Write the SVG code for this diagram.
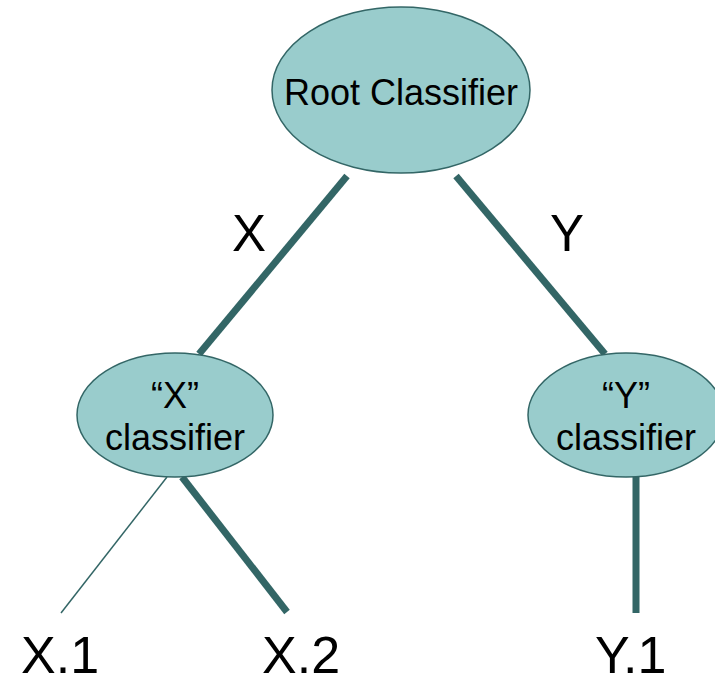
<svg xmlns="http://www.w3.org/2000/svg" width="715" height="677" viewBox="0 0 715 677">
  <style>
    .node { fill: #99cccc; stroke: #336666; stroke-width: 1.5; }
    .lbl { font-family: "Liberation Sans", Arial, sans-serif; fill: #000; }
    .in { font-size: 36px; text-anchor: middle; }
    .edge { font-size: 51px; }
    .leaf { font-size: 52px; }
    .thick { stroke: #336666; stroke-width: 7; fill: none; }
    .thin { stroke: #336666; stroke-width: 1.5; fill: none; }
  </style>
  <rect width="715" height="677" fill="#ffffff"/>

  <!-- tree branches -->
  <g id="connectors">
    <line class="thick" x1="347" y1="176" x2="199" y2="354"/>
    <line class="thick" x1="456" y1="176" x2="605" y2="354"/>
    <line class="thin" x1="167" y1="477" x2="61" y2="613"/>
    <line class="thick" x1="182" y1="477" x2="287" y2="612"/>
    <line class="thick" x1="636" y1="477" x2="636" y2="613"/>
  </g>

  <g id="root">
    <ellipse class="node" cx="401" cy="90" rx="129" ry="83"/>
    <text class="lbl in" x="401" y="105">Root Classifier</text>
  </g>

  <g id="x-classifier">
    <ellipse class="node" cx="175" cy="415" rx="98" ry="62"/>
    <text class="lbl in" x="175" y="408">“X”</text>
    <text class="lbl in" x="175" y="450">classifier</text>
  </g>

  <g id="y-classifier">
    <ellipse class="node" cx="626" cy="415" rx="98" ry="62"/>
    <text class="lbl in" x="626" y="408">“Y”</text>
    <text class="lbl in" x="626" y="450">classifier</text>
  </g>

  <!-- branch labels -->
  <g id="edge-labels">
    <text class="lbl edge" x="232" y="251">X</text>
    <text class="lbl edge" x="550" y="251">Y</text>
  </g>

  <g id="leaf-x1"><text class="lbl leaf" x="21" y="673">X.1</text></g>
  <g id="leaf-x2"><text class="lbl leaf" x="262" y="673">X.2</text></g>
  <g id="leaf-y1"><text class="lbl leaf" x="595" y="673">Y.1</text></g>
</svg>
